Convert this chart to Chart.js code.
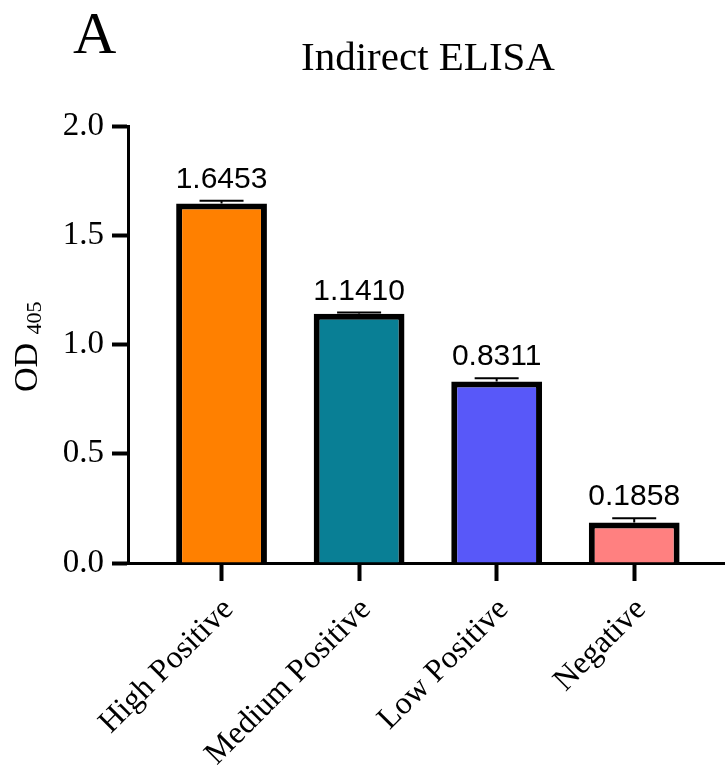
<!DOCTYPE html>
<html>
<head>
<meta charset="utf-8">
<title>Indirect ELISA</title>
<script src="https://cdn.jsdelivr.net/npm/chart.js@4/dist/chart.umd.min.js"></script>
<style>
  html, body { margin: 0; padding: 0; background: #fff; }
  #wrap { width: 725px; height: 776px; }
</style>
</head>
<body>
<div id="wrap"><canvas id="myChart" width="725" height="776"></canvas></div>
<script>
// values
var categories = ["High Positive", "Medium Positive", "Low Positive", "Negative"];
var odMeans = [1.6453, 1.1410, 0.8311, 0.1858];
var odErrors = [0.013, 0.005, 0.014, 0.019];
var barColors = ["#FF8000", "#097F95", "#5858F9", "#FF8080"];
var yTicks = [0, 0.5, 1.0, 1.5, 2.0];
var panelLetter = "A";
var chartTitle = "Indirect ELISA";
var yTitle = "OD";
var yTitleSub = "405";

var serif = "'Liberation Serif', 'Times New Roman', serif";
var sans = "'Liberation Sans', Arial, sans-serif";

// error bars (upper half only, the lower half hides in the bar) + value labels
var errorBars = {
	id: 'errorBars',
	afterDatasetsDraw: function(chart) {
		var ctx = chart.ctx;
		var meta = chart.getDatasetMeta(0);
		var yScale = chart.scales.y;
		ctx.save();
		ctx.strokeStyle = '#000';
		ctx.lineWidth = 2;
		meta.data.forEach(function(bar, i) {
			var x = bar.x;
			var yTop = yScale.getPixelForValue(odMeans[i] + odErrors[i]);
			var yMid = yScale.getPixelForValue(odMeans[i]);
			ctx.beginPath();
			ctx.moveTo(x, yMid);
			ctx.lineTo(x, yTop);
			ctx.moveTo(x - 22, yTop);
			ctx.lineTo(x + 22, yTop);
			ctx.stroke();

			ctx.fillStyle = '#000';
			ctx.font = '30px ' + sans;
			ctx.textAlign = 'center';
			ctx.textBaseline = 'alphabetic';
			ctx.fillText(odMeans[i].toFixed(4), x, yTop - 13);
		});
		ctx.restore();
	}
};

// panel letter, title and the y axis title with its subscript
var decorations = {
	id: 'decorations',
	afterDraw: function(chart) {
		var ctx = chart.ctx;
		ctx.save();
		ctx.fillStyle = '#000';
		ctx.textBaseline = 'alphabetic';

		ctx.font = '60px ' + serif;
		ctx.textAlign = 'left';
		ctx.fillText(panelLetter, 73, 53);

		ctx.font = '41px ' + serif;
		ctx.textAlign = 'center';
		ctx.fillText(chartTitle, 428, 70);

		ctx.translate(37, 392);
		ctx.rotate(-Math.PI / 2);
		ctx.textAlign = 'left';
		ctx.font = '34px ' + serif;
		ctx.fillText(yTitle, 0, 0);
		var w = ctx.measureText(yTitle + ' ').width;
		ctx.font = '22px ' + serif;
		ctx.fillText(yTitleSub, w, 4);
		ctx.restore();
	}
};

var ctx = document.getElementById('myChart').getContext('2d');
var chart = new Chart(ctx, {
	type: 'bar',
	data: {
		datasets: [{
			data: odMeans.map(function(v, i) { return {x: i + 1, y: v}; }),
			backgroundColor: barColors,
			borderColor: '#000',
			borderWidth: 6,
			barPercentage: 0.66,
			categoryPercentage: 1.0
		}]
	},
	options: {
		responsive: false,
		animation: false,
		devicePixelRatio: 1,
		layout: { padding: { top: 126, left: 0, right: 0, bottom: 0 } },
		plugins: {
			legend: { display: false },
			tooltip: { enabled: false }
		},
		scales: {
			x: {
				type: 'linear',
				min: 0.32,
				max: 4.66,
				offset: false,
				afterBuildTicks: function(scale) {
					scale.ticks = categories.map(function(c, i) { return {value: i + 1}; });
				},
				afterFit: function(scale) {
					scale.height = 213;
					scale.paddingLeft = 0;
					scale.paddingRight = 0;
				},
				grid: {
					offset: false,
					drawOnChartArea: false,
					drawTicks: true,
					tickLength: 18,
					tickWidth: 4,
					color: '#000'
				},
				border: { display: true, color: '#000', width: 3 },
				ticks: {
					autoSkip: false,
					minRotation: 45,
					maxRotation: 45,
					padding: 10,
					labelOffset: 7,
					color: '#000',
					font: { family: serif, size: 32 },
					callback: function(v) { return categories[v - 1]; }
				}
			},
			y: {
				min: 0,
				max: 2,
				afterBuildTicks: function(scale) {
					scale.ticks = yTicks.map(function(v) { return {value: v}; });
				},
				afterFit: function(scale) {
					scale.width = 128;
					scale.paddingTop = 0;
					scale.paddingBottom = 0;
				},
				grid: {
					drawOnChartArea: false,
					drawTicks: true,
					tickLength: 16,
					tickWidth: 4,
					color: '#000'
				},
				border: { display: true, color: '#000', width: 3 },
				ticks: {
					padding: 8,
					color: '#000',
					font: { family: serif, size: 33 },
					callback: function(v) { return v.toFixed(1); }
				}
			}
		}
	},
	plugins: [errorBars, decorations]
});
</script>
</body>
</html>
